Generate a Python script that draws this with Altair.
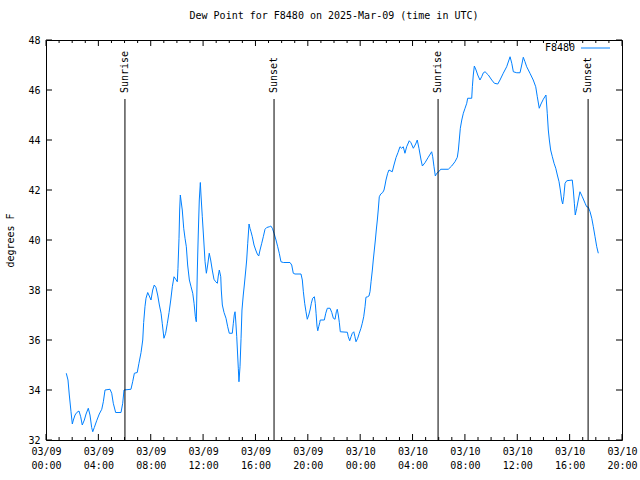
import altair as alt
import pandas as pd

# hours since 2025-03-09 00:00 UTC
hours = [1.55, 1.68, 1.78, 1.91, 2.01, 2.09, 2.22, 2.35, 2.52, 2.65, 2.77, 2.93, 3.06, 3.23, 3.36, 3.49,
         3.57, 3.69, 3.87, 4.07, 4.26, 4.38, 4.51, 4.89, 5.02, 5.14, 5.32, 5.73, 5.86, 5.96, 6.49, 6.62,
         6.75, 6.97, 7.10, 7.26, 7.39, 7.46, 7.56, 7.64, 7.77, 7.89, 8.02, 8.15, 8.27, 8.40, 8.53, 8.66,
         8.79, 8.88, 9.01, 9.14, 9.27, 9.40, 9.53, 9.65, 9.78, 9.91, 10.03, 10.08, 10.16, 10.21, 10.26,
         10.31, 10.41, 10.52, 10.62, 10.72, 10.82, 10.95, 11.08, 11.21, 11.31, 11.41, 11.48, 11.56, 11.63,
         11.71, 11.79, 11.84, 11.94, 12.05, 12.15, 12.25, 12.35, 12.47, 12.58, 12.70, 12.83, 12.96, 13.09,
         13.16, 13.24, 13.35, 13.39, 13.47, 13.60, 13.75, 13.88, 14.00, 14.23, 14.31, 14.38, 14.44, 14.49,
         14.57, 14.64, 14.69, 14.74, 14.82, 14.90, 14.97, 15.07, 15.15, 15.26, 15.33, 15.41, 15.51, 15.58,
         15.66, 15.76, 15.89, 16.02, 16.14, 16.25, 16.35, 16.48, 16.60, 16.73, 16.86, 17.06, 17.17, 17.29,
         17.42, 17.57, 17.70, 17.82, 17.95, 18.13, 18.64, 18.77, 18.89, 19.02, 19.48, 19.58, 19.66, 19.76,
         19.86, 19.96, 20.07, 20.17, 20.27, 20.37, 20.50, 20.57, 20.63, 20.70, 20.76, 20.83, 20.91, 20.95,
         21.26, 21.37, 21.49, 21.70, 21.83, 21.95, 22.08, 22.18, 22.25, 22.33, 22.41, 22.48, 23.02, 23.09,
         23.20, 23.30, 23.40, 23.51, 23.60, 23.68, 23.81, 23.93, 24.06, 24.16, 24.27, 24.37, 24.44, 24.57,
         24.67, 24.75, 24.83, 24.93, 25.00, 25.08, 25.16, 25.23, 25.31, 25.38, 25.46, 25.57, 25.72, 25.82,
         25.90, 25.97, 26.10, 26.20, 26.45, 26.58, 26.74, 26.89, 27.04, 27.17, 27.29, 27.42, 27.55, 27.75,
         27.88, 28.06, 28.24, 28.36, 28.49, 28.65, 28.75, 28.95, 29.20, 29.46, 29.54, 29.64, 29.74, 29.85,
         30.00, 30.15, 30.73, 30.99, 31.24, 31.42, 31.50, 31.57, 31.65, 31.76, 31.88, 32.01, 32.14, 32.21,
         32.52, 32.57, 32.64, 32.72, 32.85, 32.98, 33.15, 33.28, 33.41, 33.54, 33.79, 34.05, 34.25, 34.51,
         34.68, 34.93, 35.19, 35.45, 35.58, 35.70, 35.96, 36.21, 36.34, 36.46, 36.59, 36.72, 36.97, 37.22,
         37.41, 37.53, 37.68, 37.81, 37.99, 38.19, 38.29, 38.37, 38.45, 38.55, 38.68, 38.81, 38.94, 39.06,
         39.19, 39.29, 39.39, 39.47, 39.55, 39.65, 39.78, 40.20, 40.28, 40.36, 40.43, 40.54, 40.66, 40.79,
         40.97, 41.18, 41.30, 41.43, 41.56, 41.69, 41.81, 41.94, 42.07, 42.19]

dewpoint = [34.67, 34.4, 33.8, 33.13, 32.64, 32.8, 33.0, 33.1, 33.16, 32.93, 32.6, 32.8, 33.04, 33.27, 33.0, 32.5,
            32.33, 32.5, 32.77, 33.04, 33.23, 33.53, 34.0, 34.03, 33.87, 33.47, 33.1, 33.1, 33.47, 34.0, 34.03, 34.33,
            34.67, 34.7, 35.07, 35.5, 36.0, 36.7, 37.33, 37.67, 37.9, 37.76, 37.6, 38.0, 38.2, 38.1, 37.8, 37.4,
            37.07, 36.67, 36.07, 36.27, 36.67, 37.1, 37.6, 38.13, 38.53, 38.43, 38.33, 38.87, 40.07, 41.2, 41.8,
            41.6, 41.2, 40.47, 40.07, 39.73, 39.0, 38.4, 38.13, 37.87, 37.47, 36.93, 36.73, 38.8, 40.2,
            41.6, 42.3, 41.8, 40.93, 40.0, 39.13, 38.67, 39.0, 39.47, 39.2, 38.8, 38.43, 38.33, 38.27,
            38.56, 38.8, 38.53, 38.0, 37.4, 37.1, 36.87, 36.53, 36.27, 36.27, 36.67, 37.0, 37.13, 36.8,
            36.13, 35.4, 34.87, 34.33, 34.93, 36.07, 37.2, 37.8, 38.2, 38.8, 39.2, 39.87, 40.64, 40.47,
            40.33, 40.13, 39.8, 39.6, 39.44, 39.36, 39.6, 39.87, 40.13, 40.43, 40.5, 40.53, 40.56, 40.47,
            40.27, 40.0, 39.73, 39.47, 39.13, 39.1, 39.1, 39.0, 38.67, 38.64, 38.64, 38.4, 37.93, 37.47,
            37.13, 36.83, 37.0, 37.2, 37.47, 37.67, 37.73, 37.47, 37.07, 36.56, 36.37, 36.53, 36.69, 36.8,
            36.8, 37.07, 37.27, 37.27, 37.1, 36.87, 36.83, 37.13, 37.23, 37.0, 36.69, 36.33, 36.31, 36.13,
            35.97, 36.13, 36.27, 36.33, 36.13, 35.93, 36.07, 36.27, 36.47, 36.67, 36.93, 37.33, 37.71, 37.73,
            37.76, 37.93, 38.33, 38.8, 39.2, 39.6, 40.0, 40.4, 40.8, 41.2, 41.73, 41.84, 41.9, 42.0,
            42.2, 42.4, 42.67, 42.8, 42.73, 43.0, 43.3, 43.5, 43.73, 43.67, 43.73, 43.47, 43.73, 43.97,
            43.89, 43.67, 43.84, 44.0, 43.67, 43.2, 42.96, 43.09, 43.31, 43.53, 43.33, 42.93, 42.56, 42.67,
            42.73, 42.83, 42.83, 42.96, 43.13, 43.31, 43.6, 44.0, 44.47, 44.8, 45.07, 45.27, 45.47, 45.67,
            45.67, 46.13, 46.6, 46.96, 46.8, 46.6, 46.4, 46.53, 46.69, 46.73, 46.6, 46.4, 46.27, 46.24,
            46.4, 46.67, 46.93, 47.33, 47.07, 46.73, 46.69, 46.69, 47.0, 47.31, 47.13, 46.93, 46.67, 46.4,
            46.13, 45.73, 45.27, 45.44, 45.63, 45.8, 45.07, 44.4, 44.0, 43.6, 43.33, 43.07, 42.87, 42.6,
            42.33, 42.0, 41.6, 41.44, 41.73, 42.27, 42.37, 42.4, 42.0, 41.47, 41.0, 41.27, 41.6, 41.93,
            41.73, 41.47, 41.33, 41.31, 41.13, 40.87, 40.53, 40.13, 39.73, 39.47]

event_names = ["Sunrise", "Sunset", "Sunrise", "Sunset"]
event_hours = [6.03, 17.42, 29.95, 41.41]

x_major = list(range(0, 45, 4))
x_minor = [h for h in range(0, 45) if h % 4]
y_major = list(range(32, 49, 2))

series_name = "F8480"
title_text = "Dew Point for F8480 on 2025-Mar-09 (time in UTC)"

FONT = "DejaVu Sans Mono"
BLUE = "#0080ff"
W, H = 576, 400

df = pd.DataFrame({"hour": hours, "dew": dewpoint})
ev = pd.DataFrame({"hour": event_hours, "name": event_names})
xmaj = pd.DataFrame({"hour": x_major})
xmin = pd.DataFrame({"hour": x_minor})
ymaj = pd.DataFrame({"dew": y_major})
leg = pd.DataFrame({"label": [series_name]})

xs = alt.Scale(domain=[0, 44], nice=False, zero=False)
ys = alt.Scale(domain=[32, 48], nice=False, zero=False)

label_expr = ("[utcFormat(utc(2025, 2, 9, datum.value), '%m/%d'), "
              "utcFormat(utc(2025, 2, 9, datum.value), '%H:%M')]")

xaxis = alt.Axis(
    values=x_major, labelExpr=label_expr, ticks=False, domain=False, grid=False,
    labelFont=FONT, labelFontSize=10, labelColor="black", labelPadding=6,
    labelLineHeight=14, labelBaseline="top", labelFlush=False, labelOverlap=False,
    title=None)
yaxis = alt.Axis(
    values=y_major, ticks=False, domain=False, grid=False,
    labelFont=FONT, labelFontSize=10, labelColor="black", labelPadding=6,
    labelFlush=False, labelOverlap=False,
    title="degrees F", titleFont=FONT, titleFontSize=10, titleFontWeight="normal",
    titleColor="black", titlePadding=12)


def X(field="hour:Q"):
    return alt.X(field, scale=xs, axis=xaxis)


def Y(field="dew:Q"):
    return alt.Y(field, scale=ys, axis=yaxis)


line = alt.Chart(df).mark_line(color=BLUE, strokeWidth=1).encode(x=X(), y=Y())

tick_layers = [
    alt.Chart(xmaj).mark_rule(color="black").encode(x=X(), y=alt.value(H), y2=alt.value(H - 6)),
    alt.Chart(xmaj).mark_rule(color="black").encode(x=X(), y=alt.value(0), y2=alt.value(6)),
    alt.Chart(xmin).mark_rule(color="black").encode(x=X(), y=alt.value(H), y2=alt.value(H - 3)),
    alt.Chart(xmin).mark_rule(color="black").encode(x=X(), y=alt.value(0), y2=alt.value(3)),
    alt.Chart(ymaj).mark_rule(color="black").encode(y=Y(), x=alt.value(0), x2=alt.value(6)),
    alt.Chart(ymaj).mark_rule(color="black").encode(y=Y(), x=alt.value(W), x2=alt.value(W - 6)),
]

ev_rules = alt.Chart(ev).mark_rule(color="black", strokeWidth=1).encode(
    x=X(), y=alt.value(59), y2=alt.value(H))
ev_text = alt.Chart(ev).mark_text(angle=270, align="left", baseline="middle",
                                  font=FONT, fontSize=10, color="black").encode(
    x=X(), y=alt.value(53), text="name:N")

leg_text = alt.Chart(leg).mark_text(align="right", baseline="middle", font=FONT,
                                    fontSize=10, color="black").encode(
    x=alt.value(529), y=alt.value(8), text="label:N")
leg_line = alt.Chart(leg).mark_rule(color=BLUE, strokeWidth=1).encode(
    x=alt.value(535), x2=alt.value(564), y=alt.value(8))

chart = alt.layer(line, *tick_layers, ev_rules, ev_text, leg_text, leg_line).properties(
    width=W, height=H,
    title=alt.TitleParams(title_text, font=FONT, fontSize=10, fontWeight="normal",
                          anchor="middle", color="black", offset=14),
    autosize=alt.AutoSizeParams(type="none"),
    padding={"left": 46, "top": 40, "right": 18, "bottom": 40},
    background="white",
).configure_view(stroke="black", strokeWidth=1)

chart.save("out.html", embed_options={"renderer": "svg", "actions": False})
